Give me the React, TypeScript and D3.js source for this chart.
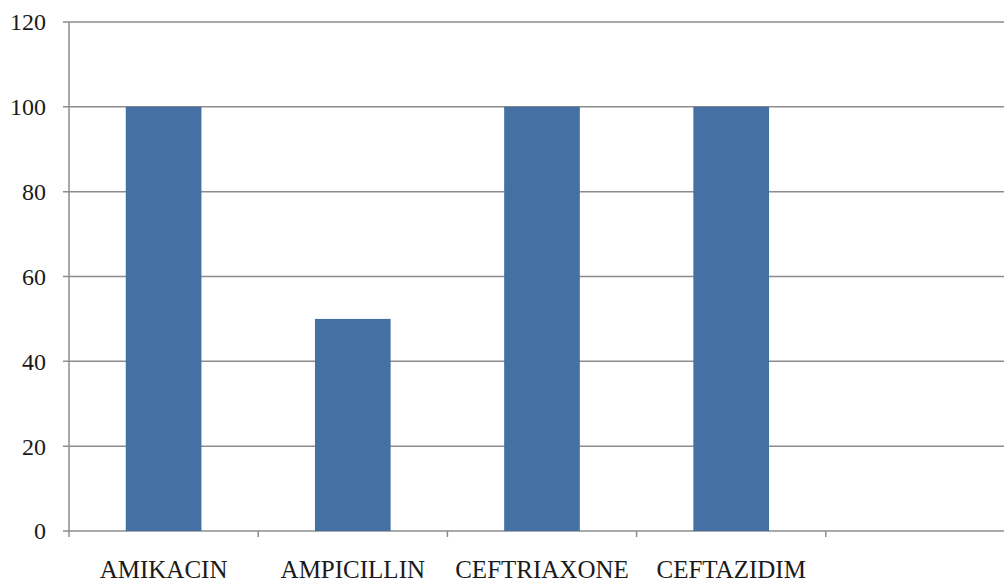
import React from "react";
import * as d3 from "d3";

const categories = ["AMIKACIN", "AMPICILLIN", "CEFTRIAXONE", "CEFTAZIDIM", ""];
const values = [100, 50, 100, 100, null];
const yTicks = [0, 20, 40, 60, 80, 100, 120];

const W = 1004;
const H = 583;
const margin = { left: 69, right: -11, top: 22, bottom: 52 };

export default function App() {
  const x = d3
    .scaleBand<string>()
    .domain(categories)
    .range([margin.left, W - margin.right])
    .paddingInner(0.6)
    .paddingOuter(0.3);
  const xEdges = d3
    .scaleBand<string>()
    .domain(categories)
    .range([margin.left, W - margin.right]);
  const y = d3.scaleLinear().domain([0, 120]).range([H - margin.bottom, margin.top]);
  const font = "'Liberation Serif', 'Times New Roman', serif";
  const axisColor = "#8c8c8c";

  return (
    <svg
      width={W}
      height={H}
      style={{ position: "absolute", left: 0, top: 0, background: "#fff" }}
    >
      {yTicks.map((t) => (
        <g key={t}>
          <line
            x1={margin.left - 6}
            x2={W}
            y1={y(t)}
            y2={y(t)}
            stroke={axisColor}
            strokeWidth={1.5}
          />
          <text
            x={46}
            y={y(t)}
            dy="0.35em"
            textAnchor="end"
            fontFamily={font}
            fontSize={24}
            fill="#1a1a1a"
          >
            {t}
          </text>
        </g>
      ))}
      <line
        x1={margin.left}
        x2={margin.left}
        y1={y(120)}
        y2={y(0) + 6}
        stroke={axisColor}
        strokeWidth={1.5}
      />
      {categories.map((c) => (
        <line
          key={"t" + c}
          x1={(xEdges(c) as number) + xEdges.bandwidth()}
          x2={(xEdges(c) as number) + xEdges.bandwidth()}
          y1={y(0)}
          y2={y(0) + 6}
          stroke={axisColor}
          strokeWidth={1.5}
        />
      ))}
      {categories.map((c, i) =>
        values[i] == null ? null : (
          <rect
            key={c}
            x={x(c)}
            width={x.bandwidth()}
            y={y(values[i] as number)}
            height={y(0) - y(values[i] as number)}
            fill="#4470a4"
          />
        )
      )}
      {categories.map((c) => (
        <text
          key={"l" + c}
          x={(xEdges(c) as number) + xEdges.bandwidth() / 2}
          y={578}
          textAnchor="middle"
          fontFamily={font}
          fontSize={25}
          fill="#1a1a1a"
        >
          {c}
        </text>
      ))}
    </svg>
  );
}
